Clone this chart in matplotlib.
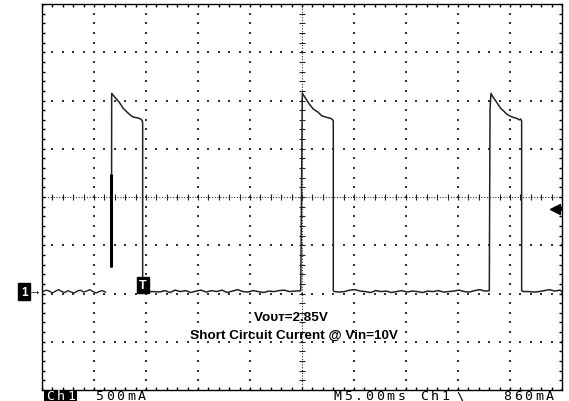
import numpy as np
import matplotlib
matplotlib.use('Agg')
import matplotlib.pyplot as plt
from matplotlib.patches import Rectangle

plt.rcParams['font.family'] = ['Liberation Sans', 'DejaVu Sans']

# Scope settings: 5 ms/div, 500 mA/div, ground 1.96 div below screen centre
MS_PER_DIV = 5.0
A_PER_DIV = 0.5
GND_DIV = -1.96
TRIG_LEVEL = 0.86     # A (860mA)
TRIG_POS = 9.71       # ms

# Trace data (time in ms from left edge of screen, current in A)
pre_t = [0.1, 0.4, 0.7, 1.0, 1.3, 1.6, 1.9, 2.2, 2.5, 2.8, 3.1, 3.4, 3.7, 4.0,
         4.3, 4.6, 4.9, 5.2, 5.5, 5.8, 6.1]
pre_i = [0.0, 0.015, 0.005, -0.015, 0.005, 0.02, 0.0, -0.01, 0.01, -0.005, -0.015,
         0.005, 0.015, -0.005, 0.005, 0.02, 0.0, -0.015, 0.0, 0.01, -0.005]

spike_t = [6.66, 6.66]
spike_i = [0.254, 1.218]

p1_t = [6.68, 6.70, 7.02, 7.43, 7.82, 8.20, 8.46, 8.72, 8.94, 9.26, 9.49, 9.64, 9.68, 9.68]
p1_i = [0.254, 2.054, 2.012, 1.961, 1.898, 1.857, 1.832, 1.811, 1.805, 1.798, 1.788,
        1.770, 1.746, 0.026]

base1_t = [9.8, 10.3, 10.8, 11.3, 11.8, 12.3, 12.8, 13.3, 13.8, 14.3, 14.8, 15.3, 15.8,
           16.3, 16.8, 17.3, 17.8, 18.3, 18.8, 19.3, 19.8, 20.3, 20.8, 21.3, 21.8, 22.3,
           22.8, 23.3, 23.8, 24.3, 24.8]
base1_i = [0.005, 0.0, 0.0, -0.005, 0.01, -0.01, 0.015, 0.0, 0.01, -0.01, 0.005, 0.015,
           -0.005, 0.01, 0.0, 0.015, -0.01, 0.005, 0.02, 0.0, -0.005, 0.01, 0.0, -0.01,
           0.005, 0.0, 0.01, 0.015, 0.0, 0.005, 0.008]

p2_t = [24.88, 25.03, 25.29, 25.70, 26.09, 26.57, 26.89, 27.38, 27.76, 27.95, 28.01, 28.01]
p2_i = [0.008, 2.054, 2.012, 1.943, 1.891, 1.857, 1.822, 1.805, 1.795, 1.780, 1.767, 0.008]

base2_t = [28.1, 28.6, 29.1, 29.6, 30.1, 30.6, 31.1, 31.6, 32.1, 32.6, 33.1, 33.6, 34.1,
           34.6, 35.1, 35.6, 36.1, 36.6, 37.1, 37.6, 38.1, 38.6, 39.1, 39.6, 40.1, 40.6,
           41.1, 41.6, 42.1, 42.6]
base2_i = [0.0, -0.005, 0.0, 0.015, 0.02, 0.005, 0.0, -0.01, 0.01, 0.0, 0.005, -0.01, 0.0,
           0.01, -0.005, 0.005, 0.0, -0.01, 0.005, 0.0, 0.01, -0.005, 0.0, 0.005, 0.015,
           0.0, -0.005, 0.01, 0.02, 0.005]

p3_t = [43.01, 43.08, 43.17, 43.39, 43.72, 44.11, 44.36, 44.68, 45.16, 45.64, 45.89,
        46.03, 46.12, 46.12]
p3_i = [0.008, 1.891, 2.054, 2.012, 1.961, 1.898, 1.874, 1.839, 1.811, 1.795, 1.780,
        1.788, 1.767, 0.008]

base3_t = [46.3, 46.8, 47.3, 47.8, 48.3, 48.8, 49.3, 49.8, 50.0]
base3_i = [0.0, 0.0, -0.005, 0.0, 0.01, 0.02, 0.005, 0.015, 0.0]

# status line fields: (text, left pixel)
status_fields = [('Ch1', 46), ('500mA', 95), ('M5.00ms', 333), ('Ch1', 420),
                 ('\\', 456), ('860mA', 503)]

# screen limits
x_min, x_max = 0.0, 10 * MS_PER_DIV
centre = -GND_DIV * A_PER_DIV
y_min, y_max = centre - 4 * A_PER_DIV, centre + 4 * A_PER_DIV

W, H = 569, 402
fig = plt.figure(figsize=(W / 100, H / 100), dpi=100)
ax = fig.add_axes([42 / W, 1 - 391 / H, 520 / W, 386 / H])
ax.set_xlim(x_min, x_max)
ax.set_ylim(y_min, y_max)
ax.set_xticks([])
ax.set_yticks([])
for s in ax.spines.values():
    s.set_linewidth(1.0)
    s.set_color('black')

# graticule
xs_minor = np.linspace(x_min, x_max, 51)
ys_minor = np.linspace(y_min, y_max, 41)
dot = dict(ls='none', marker='s', ms=1.5, mew=0, color='#333333')
for k in range(1, 10):
    if k == 5:
        continue
    xk = x_min + k * MS_PER_DIV
    ax.plot([xk] * len(ys_minor), ys_minor, **dot)
for k in range(1, 8):
    if k == 4:
        continue
    yk = y_min + k * A_PER_DIV
    ax.plot(xs_minor, [yk] * len(xs_minor), **dot)

xc = (x_min + x_max) / 2
ax.axvline(xc, ls=(0, (1, 1.5)), lw=0.8, color='#333333')
ax.axhline(centre, ls=(0, (1, 1.5)), lw=0.8, color='#333333')
ax.plot([xc] * len(ys_minor), ys_minor, ls='none', marker='_', ms=5, mew=0.8, color='#222222')
ax.plot(xs_minor, [centre] * len(xs_minor), ls='none', marker='|', ms=5, mew=0.8, color='#222222')

# edge ticks (half of each marker clipped away)
ax.plot([x_min] * len(ys_minor), ys_minor, ls='none', marker='_', ms=5, mew=1, color='black')
ax.plot([x_max] * len(ys_minor), ys_minor, ls='none', marker='_', ms=5, mew=1, color='black')
ax.plot(xs_minor, [y_max] * len(xs_minor), ls='none', marker='|', ms=5, mew=1, color='black')
ax.plot(xs_minor, [y_min] * len(xs_minor), ls='none', marker='|', ms=5, mew=1, color='black')

# waveform
trace_t = p1_t + base1_t + p2_t + base2_t + p3_t + base3_t
trace_i = p1_i + base1_i + p2_i + base2_i + p3_i + base3_i
ax.plot(pre_t, pre_i, color='#222222', lw=1.0)
ax.plot(trace_t, trace_i, color='#222222', lw=1.1)
ax.plot(spike_t, spike_i, color='black', lw=2.2, solid_capstyle='butt')

# markers: trigger position, trigger level, ground
ax.text(TRIG_POS, 0.067, 'T', color='white', fontsize=9, fontweight='bold',
        ha='center', va='center',
        bbox=dict(boxstyle='square,pad=0.18', fc='black', ec='black'))
ax.plot([x_max - 0.65], [TRIG_LEVEL], marker='<', ms=7, color='black', clip_on=False)
ax.plot([x_max - 0.6, x_max], [TRIG_LEVEL, TRIG_LEVEL], color='black', lw=2)
ax.text(-0.034, 0.0, '1', transform=ax.get_yaxis_transform(), color='white',
        fontsize=8.5, fontweight='bold', ha='center', va='center', clip_on=False,
        bbox=dict(boxstyle='square,pad=0.22', fc='black', ec='black'))
ax.text(-0.001, 0.0, '\u2192', transform=ax.get_yaxis_transform(), color='black',
        fontsize=9, fontweight='bold', ha='right', va='center', clip_on=False)

# annotation text
ax.text(24.0, -0.259, 'V\u1d0f\u1d1c\u1d1b=2.85V', fontsize=9.7, fontweight='bold',
        ha='center', va='center')
ax.text(24.18, -0.451, 'Short Circuit Current @ Vin=10V', fontsize=9.7, fontweight='bold',
        ha='center', va='center')

# status line (characters spaced like the scope font)
fig.patches.append(Rectangle((44 / W, 0), 33 / W, 1 - 392 / H, transform=fig.transFigure,
                             fc='black', ec='none'))
step = 10.7
for j, (label, x0) in enumerate(status_fields):
    col = 'white' if j == 0 else 'black'
    for n, ch in enumerate(label):
        fig.text((x0 + n * step) / W, 1.5 / H, ch, family='DejaVu Sans Mono',
                 fontsize=9.5, color=col, va='baseline')

fig.savefig('out.png', dpi=100)
